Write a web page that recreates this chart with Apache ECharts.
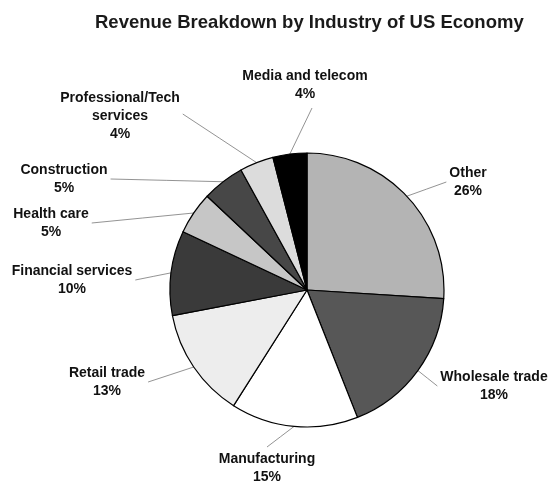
<!DOCTYPE html>
<html>
<head>
<meta charset="utf-8">
<script src="https://cdn.jsdelivr.net/npm/echarts@6/dist/echarts.min.js"></script>
<style>html,body{margin:0;padding:0;background:#fff}#c{width:551px;height:484px}</style>
</head>
<body>
<div id="c"></div>
<script>
var titleText = 'Revenue Breakdown by Industry of US Economy';
var categories = ['Other', 'Wholesale trade', 'Manufacturing', 'Retail trade', 'Financial services', 'Health care', 'Construction', 'Professional/Tech services', 'Media and telecom'];
var values = [26, 18, 15, 13, 10, 5, 5, 4, 4];

// styling
var sliceColors = ['#b4b4b4', '#575757', '#ffffff', '#ededed', '#3a3a3a', '#c6c6c6', '#474747', '#dcdcdc', '#000000'];
var labelPos = [[468, 182], [494, 386], [267, 468], [107, 382], [72, 280], [51, 223], [64, 179], [120, 116], [305, 85]];
var lineSide = ['l', 'l', 't', 'r', 'r', 'r', 'r', 'r', 'b'];

var chart = echarts.init(document.getElementById('c'));
chart.setOption({
  animation: false,
  backgroundColor: '#fff',
  title: {
    text: titleText,
    left: 90,
    top: 8,
    textStyle: { fontFamily: 'Liberation Sans', fontWeight: 'bold', fontSize: 18.5, color: '#1a1a1a' }
  },
  series: [{
    type: 'pie',
    center: [307, 290],
    radius: 137,
    startAngle: 90,
    clockwise: true,
    avoidLabelOverlap: false,
    data: categories.map(function (n, i) {
      return { name: n, value: values[i], itemStyle: { color: sliceColors[i] } };
    }),
    itemStyle: { borderColor: '#000', borderWidth: 1.2 },
    label: {
      show: true,
      position: 'outside',
      fontFamily: 'Liberation Sans',
      fontWeight: 'bold',
      fontSize: 14,
      lineHeight: 18,
      color: '#111',
      align: 'center',
      formatter: function (p) {
        return p.name.replace('/Tech ', '/Tech\n') + '\n' + p.value + '%';
      }
    },
    labelLine: { show: true, length: 15, length2: 10, lineStyle: { color: '#777', width: 0.8 } },
    labelLayout: function (params) {
      var i = params.dataIndex;
      var p = labelPos[i];
      var w = params.labelRect.width, h = params.labelRect.height;
      var s = params.labelLinePoints ? params.labelLinePoints[0] : null;
      var res = { x: p[0], y: p[1], align: 'center', verticalAlign: 'middle' };
      if (s) {
        var e;
        var side = lineSide[i];
        if (side === 'l') e = [p[0] - w / 2 - 3, p[1]];
        else if (side === 'r') e = [p[0] + w / 2 + 3, p[1] - (i === 7 ? 2 : 0)];
        else if (side === 't') e = [p[0], p[1] - h / 2 - 3];
        else e = [p[0] + 7, p[1] + h / 2 + 5];
        res.labelLinePoints = [[s[0], s[1]], [(s[0] + e[0]) / 2, (s[1] + e[1]) / 2], e];
      }
      return res;
    }
  }]
});
</script>
</body>
</html>
